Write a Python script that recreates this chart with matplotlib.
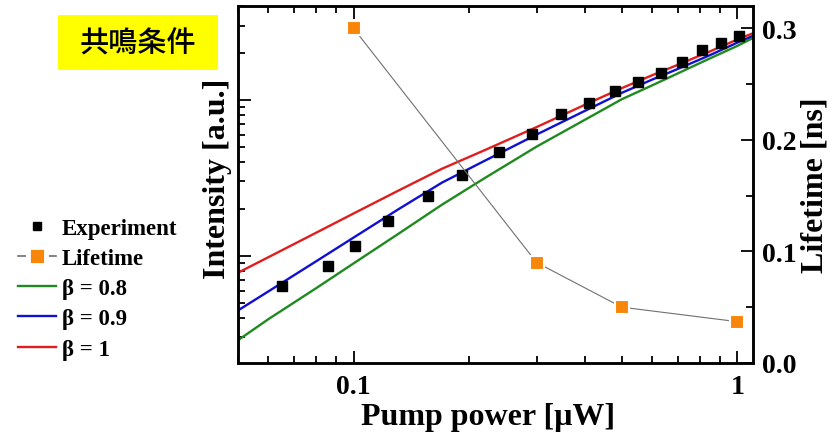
import matplotlib
matplotlib.use("Agg")
import matplotlib.pyplot as plt
from matplotlib.lines import Line2D
from matplotlib.patches import Rectangle
from matplotlib.ticker import NullFormatter, FixedLocator, LogLocator

# experiment points (pump power [uW], intensity [a.u.])
exp_p = [0.0653, 0.0856, 0.101, 0.1227, 0.156, 0.192, 0.239, 0.291, 0.348,
         0.412, 0.481, 0.552, 0.634, 0.719, 0.811, 0.909, 1.01]
exp_i = [6.43, 8.63, 11.6, 16.8, 24.3, 33.0, 46.4, 60.5, 81.3,
         95.7, 114, 130, 149, 175, 209, 232, 257]

# model curves
fit_p = [0.05, 0.06, 0.08, 0.1, 0.13, 0.17, 0.22, 0.3, 0.4, 0.5, 0.6, 0.7,
         0.85, 1.0, 1.1]
beta08 = [2.88, 3.93, 6.22, 8.95, 13.7, 21.3, 31.6, 50.2, 74.4, 101, 124, 148,
          185, 222, 250]
beta09 = [4.47, 5.92, 9.25, 13.1, 19.7, 29.5, 40.8, 60.0, 84.9, 111, 135, 158,
          194, 233, 258]
beta10 = [7.80, 9.81, 14.1, 18.7, 26.0, 36.2, 47.7, 67.0, 92.9, 119, 144, 168,
          205, 244, 268]

# lifetime [ns]
life_p = [0.1, 0.3, 0.5, 1.0]
life_t = [0.30, 0.09, 0.05, 0.037]

orange = "#f7860a"
green = "#1f8a1f"
blue = "#1010d0"
red = "#e01e1e"
plt.rcParams["font.family"] = ["Liberation Serif", "DejaVu Serif"]
plt.rcParams["font.weight"] = "bold"

fig = plt.figure(figsize=(8.35, 4.39), dpi=100)
ax = fig.add_axes([0.285, 0.171, 0.617, 0.813])
ax.set_xscale("log")
ax.set_yscale("log")

ax.plot(fit_p, beta08, color=green, lw=1.7)
ax.plot(fit_p, beta09, color=blue, lw=1.7)
ax.plot(fit_p, beta10, color=red, lw=1.7)
ax.plot(exp_p, exp_i, "s", color="black", ms=7, zorder=5)

ax.set_xlim(0.05, 1.1)
ax.set_ylim(2.06, 400)
ax.xaxis.set_major_locator(FixedLocator([0.1, 1]))
ax.set_xticklabels(["0.1", "1"])
ax.xaxis.set_minor_locator(LogLocator(base=10, subs=range(2, 10)))
ax.xaxis.set_minor_formatter(NullFormatter())
ax.yaxis.set_major_formatter(NullFormatter())
ax.yaxis.set_minor_formatter(NullFormatter())
ax.tick_params(which="both", direction="in", top=True, width=1.3)
ax.tick_params(which="major", length=9, labelsize=20, pad=8)
ax.tick_params(which="minor", length=5)
for s in ax.spines.values():
    s.set_linewidth(1.8)

ax.set_xlabel("Pump power [μW]", fontsize=23, fontweight="bold", labelpad=2)
ax.xaxis.label.set_x(0.486)
ax.set_ylabel("Intensity [a.u.]", fontsize=23, fontweight="bold", labelpad=-4)
ax.yaxis.label.set_y(0.52)

ax2 = ax.twinx()
ax2.plot(life_p, life_t, color="#707070", lw=0.8, zorder=1)
ax2.plot(life_p, life_t, "s", color=orange, ms=10, mec="white", mew=1.5, zorder=3)
ax2.set_ylim(0, 0.32)
ax2.set_yticks([0.0, 0.1, 0.2, 0.3])
ax2.set_yticklabels(["0.0", "0.1", "0.2", "0.3"])
ax2.yaxis.set_minor_locator(FixedLocator([0.05, 0.15, 0.25]))
ax2.tick_params(which="both", direction="in", width=1.3)
ax2.tick_params(which="major", length=9, labelsize=20, pad=6)
ax2.tick_params(which="minor", length=5)
ax2.set_ylabel("Lifetime [ns]", fontsize=23, fontweight="bold", labelpad=3)
for s in ax2.spines.values():
    s.set_linewidth(1.8)

handles = [
    Line2D([], [], ls="none", marker="s", color="black", ms=6),
    Line2D([], [], color="#707070", lw=1.2, marker="s", mfc=orange,
           mec="white", mew=3.5, ms=12.5),
    Line2D([], [], color=green, lw=1.7),
    Line2D([], [], color=blue, lw=1.7),
    Line2D([], [], color=red, lw=1.7),
]
labels = ["Experiment", "Lifetime", "β = 0.8", "β = 0.9", "β = 1"]
fig.legend(handles, labels, loc="center left", bbox_to_anchor=(0.022, 0.34),
           frameon=False, fontsize=16.5, handlelength=1.65, handletextpad=0.25,
           labelspacing=0.4, borderpad=0, borderaxespad=0)

fig.patches.append(Rectangle((58 / 835, 1 - 71 / 439), 160 / 835, 55 / 439,
                             transform=fig.transFigure, fc="#ffff00", ec="none"))
fig.text(0.165, 0.9, "共鳴条件", fontsize=21, fontweight="medium",
         family=["Noto Sans CJK JP"], ha="center", va="center")

fig.savefig("out.png", dpi=100)
